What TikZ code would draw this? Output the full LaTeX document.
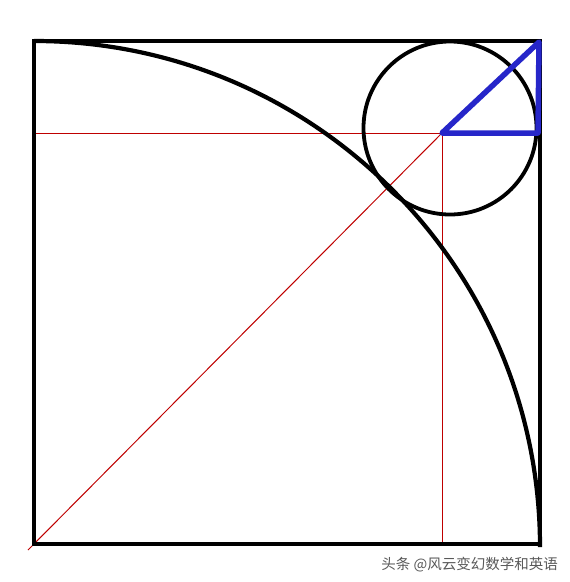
\documentclass[tikz,border=0pt]{standalone}
\usepackage{fontspec}
\newfontfamily\cjk{Noto Sans CJK SC}
\begin{document}
\begin{tikzpicture}[x=1pt,y=-1pt,
  blk/.style={line width=4.2pt,black},
  redl/.style={line width=1pt,red!75!black},
  bluel/.style={line width=5.5pt,blue!75!black!85,line join=round,line cap=round},
  wm/.style={font=\cjk\fontsize{14.5}{16}\selectfont,text=black!65,anchor=east,inner sep=0pt}]
\useasboundingbox (0,0) rectangle (570,582);
\fill[white] (0,0) rectangle (570,582);
\coordinate (A) at (34,544);
\coordinate (B) at (540,544);
\coordinate (C) at (540,41);
\coordinate (D) at (34,41);
\coordinate (P) at (442,133);
\coordinate (L) at (34,133);
\coordinate (Pb) at (442,545);
\coordinate (Ao) at (28,550);
\coordinate (O) at (450,128);
\coordinate (T1) at (539,42);
\coordinate (T2) at (538,133);
% red guide lines
\draw[redl] (L) -- (P);
\draw[redl] (P) -- (Pb);
\draw[redl] (Ao) -- (P);
% square
\draw[blk,line join=miter] (A) -- (B) -- (C) -- (D) -- cycle;
% quarter circle
\draw[blk] (D) arc[start angle=-90,end angle=0,radius=506];
% small circle
\draw[blk,line width=3.8pt] (O) circle[radius=86.5];
% blue triangle
\draw[bluel] (P) -- (T1) -- (T2) -- cycle;
\node[wm] (w) at (558,565) {头条 @风云变幻数学和英语};
\end{tikzpicture}
\end{document}
